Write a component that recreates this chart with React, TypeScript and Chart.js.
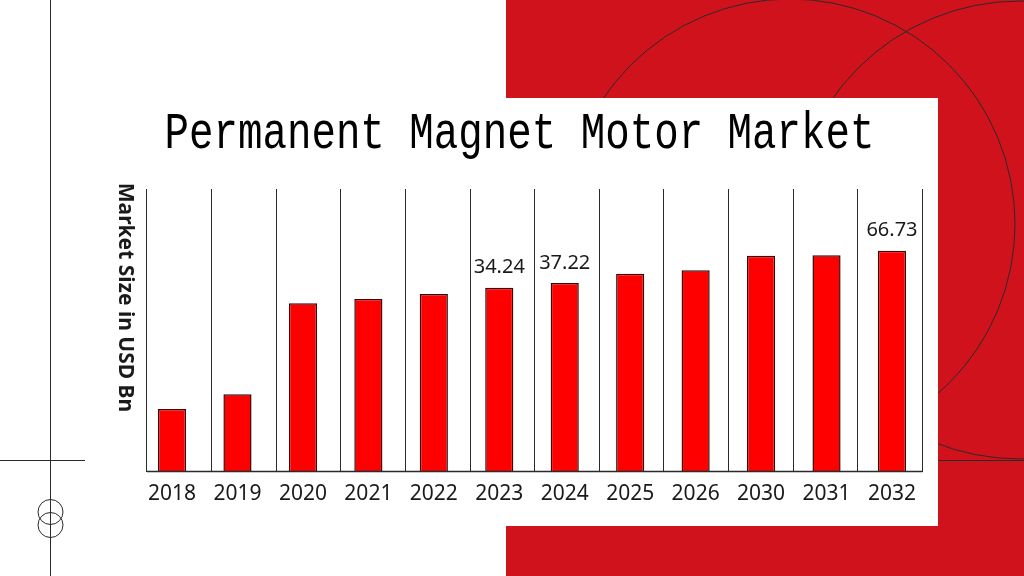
import React, { useEffect, useRef } from "react";
import { Chart, registerables } from "chart.js";

Chart.register(...registerables);

// ---- data ----
const years = ["2018", "2019", "2020", "2021", "2022", "2023", "2024", "2025", "2026", "2030", "2031", "2032"];
const marketSize = [3.84, 5.01, 25.85, 27.93, 30.56, 34.24, 37.22, 44.07, 46.86, 60.98, 61.42, 66.73];
const labeledYears = ["2023", "2024", "2032"];
const chartTitle = "Permanent Magnet Motor Market";
const yAxisTitle = "Market Size in USD Bn";

// ---- styles ----
const RED_BG = "#CF121C";
const BAR_FILL = "#FF0000";
const BAR_BORDER = "#3a0606";
const LINE = "#2b2b2b";
const TEXT = "#1a1a1a";
const SANS = "'Noto Sans', 'Open Sans', sans-serif";

const decorPlugin = {
  id: "decor",
  beforeDraw(chart: any) {
    const ctx = chart.ctx as CanvasRenderingContext2D;
    const W = chart.width;
    const H = chart.height;
    ctx.save();
    ctx.fillStyle = "#ffffff";
    ctx.fillRect(0, 0, W, H);
    ctx.fillStyle = RED_BG;
    ctx.fillRect(506, 0, W - 506, H);

    ctx.strokeStyle = LINE;
    ctx.lineWidth = 1;
    ctx.beginPath();
    ctx.arc(790, 224, 225, 0, Math.PI * 2);
    ctx.stroke();
    ctx.beginPath();
    ctx.arc(1020, 230, 229, 0, Math.PI * 2);
    ctx.stroke();

    ctx.beginPath();
    ctx.moveTo(0, 460.5);
    ctx.lineTo(W, 460.5);
    ctx.stroke();
    ctx.beginPath();
    ctx.moveTo(50.5, 0);
    ctx.lineTo(50.5, H);
    ctx.stroke();
    ctx.beginPath();
    ctx.arc(50.5, 512, 12.5, 0, Math.PI * 2);
    ctx.stroke();
    ctx.beginPath();
    ctx.arc(50.5, 525, 12.5, 0, Math.PI * 2);
    ctx.stroke();

    // white panel
    ctx.fillStyle = "#ffffff";
    ctx.fillRect(85, 98, 853, 428);

    // title
    ctx.fillStyle = "#000000";
    ctx.font = "52px 'Liberation Mono', monospace";
    const w = ctx.measureText(chartTitle).width;
    ctx.save();
    ctx.translate(519.5, 148);
    ctx.scale(710 / w, 1);
    ctx.textAlign = "center";
    ctx.textBaseline = "alphabetic";
    ctx.fillText(chartTitle, 0, 0);
    ctx.restore();

    // y axis title, reading top to bottom
    ctx.save();
    ctx.font = "bold 21px " + SANS;
    ctx.fillStyle = TEXT;
    ctx.translate(125, 297.5);
    ctx.rotate(Math.PI / 2);
    ctx.textAlign = "center";
    ctx.textBaseline = "middle";
    ctx.fillText(yAxisTitle, 0, 0);
    ctx.restore();

    ctx.restore();
  },
  afterDatasetsDraw(chart: any) {
    const ctx = chart.ctx as CanvasRenderingContext2D;
    const area = chart.chartArea;
    const g = chart.scales.xGrid;
    ctx.save();
    ctx.strokeStyle = LINE;
    ctx.lineWidth = 1.5;
    ctx.beginPath();
    ctx.moveTo(g.getPixelForValue(0), area.bottom);
    ctx.lineTo(g.getPixelForValue(years.length), area.bottom);
    ctx.stroke();

    const meta = chart.getDatasetMeta(0);
    ctx.font = "20px " + SANS;
    ctx.fillStyle = TEXT;
    ctx.textAlign = "center";
    ctx.textBaseline = "alphabetic";
    years.forEach((yr, i) => {
      if (!labeledYears.includes(yr)) return;
      const el = meta.data[i];
      ctx.fillText(marketSize[i].toFixed(2), el.x, el.y - 14.5);
    });
    ctx.restore();
  },
};

export default function App() {
  const ref = useRef<HTMLCanvasElement | null>(null);

  useEffect(() => {
    if (!ref.current) return;
    const chart = new Chart(ref.current, {
      type: "bar",
      data: {
        labels: years,
        datasets: [
          {
            label: yAxisTitle,
            data: marketSize,
            backgroundColor: BAR_FILL,
            borderColor: BAR_BORDER,
            borderWidth: 1.5,
            barPercentage: 0.43,
            categoryPercentage: 1,
          },
        ],
      },
      options: {
        responsive: false,
        animation: false,
        devicePixelRatio: 1,
        layout: { padding: { left: 139.3, right: 99.3, top: 189, bottom: 59.3 } },
        plugins: {
          legend: { display: false },
          title: { display: false },
          tooltip: { enabled: false },
        },
        scales: {
          x: {
            type: "category",
            offset: true,
            grid: { display: false, drawTicks: false },
            border: { display: false },
            ticks: {
              color: TEXT,
              font: { family: SANS, size: 21 },
              padding: 10,
              maxRotation: 0,
              autoSkip: false,
            },
          },
          xGrid: {
            type: "linear",
            axis: "x",
            position: "bottom",
            offset: false,
            min: -0.119,
            max: 12.034,
            afterBuildTicks: (axis: any) => {
              axis.ticks = years.map((_, i) => ({ value: i })).concat([{ value: years.length }]);
            },
            ticks: { display: false },
            grid: { color: LINE, lineWidth: 1, drawTicks: false, offset: false },
            border: { display: false },
          },
          y: {
            type: "logarithmic",
            display: false,
            min: 1.245,
            max: 202.9,
          },
        },
      } as any,
      plugins: [decorPlugin],
    });
    return () => chart.destroy();
  }, []);

  return (
    <div style={{ position: "fixed", left: 0, top: 0, width: 1024, height: 576, background: "#fff" }}>
      <canvas ref={ref} width={1024} height={576} style={{ display: "block", width: 1024, height: 576 }} />
    </div>
  );
}
